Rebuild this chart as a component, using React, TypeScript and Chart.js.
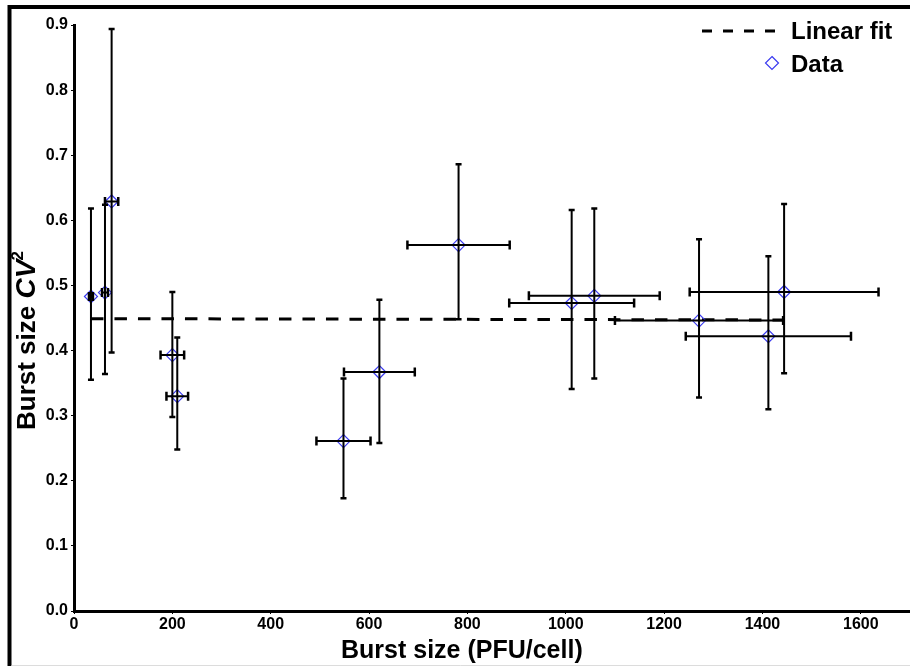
import React, { useEffect, useRef } from 'react';
import { Chart, registerables } from 'chart.js';

Chart.register(...registerables);

// Burst size (PFU/cell) and its error (+/-)
const burstSize = [34.5, 63, 76.5, 200, 210, 548, 621, 782, 1012, 1058, 1271, 1412, 1444];
const burstErr = [4, 6, 13.5, 24, 22, 55, 72, 104, 127, 133, 171, 168, 192];
// Burst size CV^2 and its error bounds
const cv2 = [0.483, 0.489, 0.629, 0.393, 0.330, 0.261, 0.367, 0.562, 0.473, 0.484, 0.446, 0.422, 0.490];
const cv2Upper = [0.618, 0.624, 0.894, 0.490, 0.420, 0.357, 0.478, 0.686, 0.616, 0.618, 0.571, 0.545, 0.625];
const cv2Lower = [0.355, 0.364, 0.397, 0.298, 0.248, 0.173, 0.258, 0.448, 0.341, 0.357, 0.328, 0.310, 0.365];
// Linear fit
const fitX = [34.5, 1444];
const fitY = [0.449, 0.447];

const xTickStep = 200;
const yTickStep = 0.1;
const legendLabels = ['Linear fit', 'Data'];
const xTitle = 'Burst size (PFU/cell)';
const yTitleParts = ['Burst size ', 'CV', '2'];

const DIAMOND = '#3a3af0';
const FONT = '"Liberation Sans", Arial, sans-serif';

const framePlugin = {
  id: 'frame',
  beforeDraw(chart: any) {
    const ctx = chart.ctx;
    ctx.save();
    ctx.fillStyle = '#fff';
    ctx.fillRect(0, 0, chart.width, chart.height);
    ctx.strokeStyle = '#000';
    ctx.lineWidth = 4;
    ctx.beginPath();
    ctx.moveTo(7.5, 7);
    ctx.lineTo(chart.width, 7);
    ctx.moveTo(9.5, 5);
    ctx.lineTo(9.5, chart.height);
    ctx.stroke();
    ctx.strokeStyle = '#dcdcdc';
    ctx.lineWidth = 1;
    ctx.beginPath();
    ctx.moveTo(11.5, 665.5);
    ctx.lineTo(chart.width, 665.5);
    ctx.stroke();
    ctx.restore();
  },
};

const errorBarPlugin = {
  id: 'errorBars',
  afterDatasetsDraw(chart: any) {
    const ctx = chart.ctx;
    const x = chart.scales.x;
    const y = chart.scales.y;
    ctx.save();
    ctx.strokeStyle = '#000';
    for (let i = 0; i < burstSize.length; i++) {
      const px = x.getPixelForValue(burstSize[i]);
      const py = y.getPixelForValue(cv2[i]);
      const yt = y.getPixelForValue(cv2Upper[i]);
      const yb = y.getPixelForValue(cv2Lower[i]);
      const xl = x.getPixelForValue(burstSize[i] - burstErr[i]);
      const xr = x.getPixelForValue(burstSize[i] + burstErr[i]);
      ctx.lineWidth = 2;
      ctx.beginPath();
      ctx.moveTo(px, yt);
      ctx.lineTo(px, yb);
      ctx.moveTo(xl, py);
      ctx.lineTo(xr, py);
      ctx.stroke();
      ctx.lineWidth = 2.5;
      ctx.beginPath();
      ctx.moveTo(px - 3, yt);
      ctx.lineTo(px + 3, yt);
      ctx.moveTo(px - 3, yb);
      ctx.lineTo(px + 3, yb);
      ctx.moveTo(xl, py - 4.5);
      ctx.lineTo(xl, py + 4.5);
      ctx.moveTo(xr, py - 4.5);
      ctx.lineTo(xr, py + 4.5);
      ctx.stroke();
    }
    ctx.restore();
  },
};

const textPlugin = {
  id: 'texts',
  afterDraw(chart: any) {
    const ctx = chart.ctx;
    ctx.save();
    ctx.fillStyle = '#000';
    ctx.textBaseline = 'alphabetic';
    ctx.textAlign = 'left';
    // x title
    ctx.font = `bold 25px ${FONT}`;
    ctx.fillText(xTitle, 341, 658);
    // y title (rotated)
    ctx.translate(35, 430);
    ctx.rotate(-Math.PI / 2);
    ctx.font = `bold 26px ${FONT}`;
    ctx.fillText(yTitleParts[0], 0, 0);
    let off = ctx.measureText(yTitleParts[0]).width;
    ctx.font = `italic bold 28px ${FONT}`;
    ctx.fillText(yTitleParts[1], off, 0);
    off += ctx.measureText(yTitleParts[1]).width;
    ctx.font = `bold 17px ${FONT}`;
    ctx.fillText(yTitleParts[2], off - 1, -12);
    ctx.setTransform(1, 0, 0, 1, 0, 0);
    // legend
    ctx.strokeStyle = '#000';
    ctx.lineWidth = 3;
    ctx.setLineDash([10, 11]);
    ctx.beginPath();
    ctx.moveTo(702, 31);
    ctx.lineTo(780, 31);
    ctx.stroke();
    ctx.setLineDash([]);
    ctx.font = `bold 24px ${FONT}`;
    ctx.fillText(legendLabels[0], 791, 39);
    ctx.fillText(legendLabels[1], 791, 72);
    ctx.strokeStyle = DIAMOND;
    ctx.lineWidth = 1.2;
    const cx = 772, cy = 63, r = 6.5;
    ctx.beginPath();
    ctx.moveTo(cx, cy - r);
    ctx.lineTo(cx + r, cy);
    ctx.lineTo(cx, cy + r);
    ctx.lineTo(cx - r, cy);
    ctx.closePath();
    ctx.stroke();
    ctx.restore();
  },
};

export default function App() {
  const ref = useRef<HTMLCanvasElement | null>(null);
  useEffect(() => {
    if (!ref.current) return;
    const chart = new Chart(ref.current, {
      type: 'scatter',
      data: {
        datasets: [
          {
            label: 'Data',
            data: burstSize.map((v, i) => ({ x: v, y: cv2[i] })),
            pointStyle: 'rectRot',
            pointRadius: 6.5,
            pointBorderWidth: 1.2,
            borderColor: DIAMOND,
            backgroundColor: 'rgba(0,0,0,0)',
            showLine: false,
          },
          {
            label: 'Linear fit',
            data: fitX.map((v, i) => ({ x: v, y: fitY[i] })),
            showLine: true,
            borderColor: '#000',
            borderWidth: 3,
            borderDash: [12.5, 11],
            pointRadius: 0,
            backgroundColor: '#000',
          },
        ],
      },
      options: {
        animation: false,
        responsive: false,
        devicePixelRatio: 1,
        layout: { autoPadding: false, padding: { top: 25, right: 0, left: 0, bottom: 0 } },
        plugins: {
          legend: { display: false },
          tooltip: { enabled: false },
        },
        scales: {
          x: {
            type: 'linear',
            min: 0,
            max: 1700,
            afterFit: (s: any) => {
              s.height = 55;
              s.paddingLeft = 0;
              s.paddingRight = 0;
            },
            border: { display: true, color: '#000', width: 3 },
            grid: { drawOnChartArea: false, drawTicks: true, tickLength: 3, color: '#000', lineWidth: 1 },
            ticks: {
              stepSize: xTickStep,
              includeBounds: false,
              color: '#000',
              padding: 1,
              maxRotation: 0,
              font: { family: FONT, size: 16, weight: 'bold' },
              callback: (v: any) => String(v),
            },
          },
          y: {
            type: 'linear',
            min: 0,
            max: 0.9,
            afterFit: (s: any) => {
              s.width = 74;
              s.paddingTop = 0;
              s.paddingBottom = 0;
            },
            border: { display: true, color: '#000', width: 3 },
            grid: { drawOnChartArea: false, drawTicks: true, tickLength: 3, color: '#000', lineWidth: 1 },
            ticks: {
              stepSize: yTickStep,
              color: '#000',
              padding: 3,
              font: { family: FONT, size: 16, weight: 'bold' },
              callback: (v: any) => Number(v).toFixed(1),
            },
          },
        },
      },
      plugins: [framePlugin, errorBarPlugin, textPlugin],
    });
    return () => chart.destroy();
  }, []);
  return (
    <div style={{ position: 'absolute', left: 0, top: 0, width: 910, height: 666 }}>
      <canvas ref={ref} width={910} height={666} style={{ display: 'block', width: 910, height: 666 }} />
    </div>
  );
}
